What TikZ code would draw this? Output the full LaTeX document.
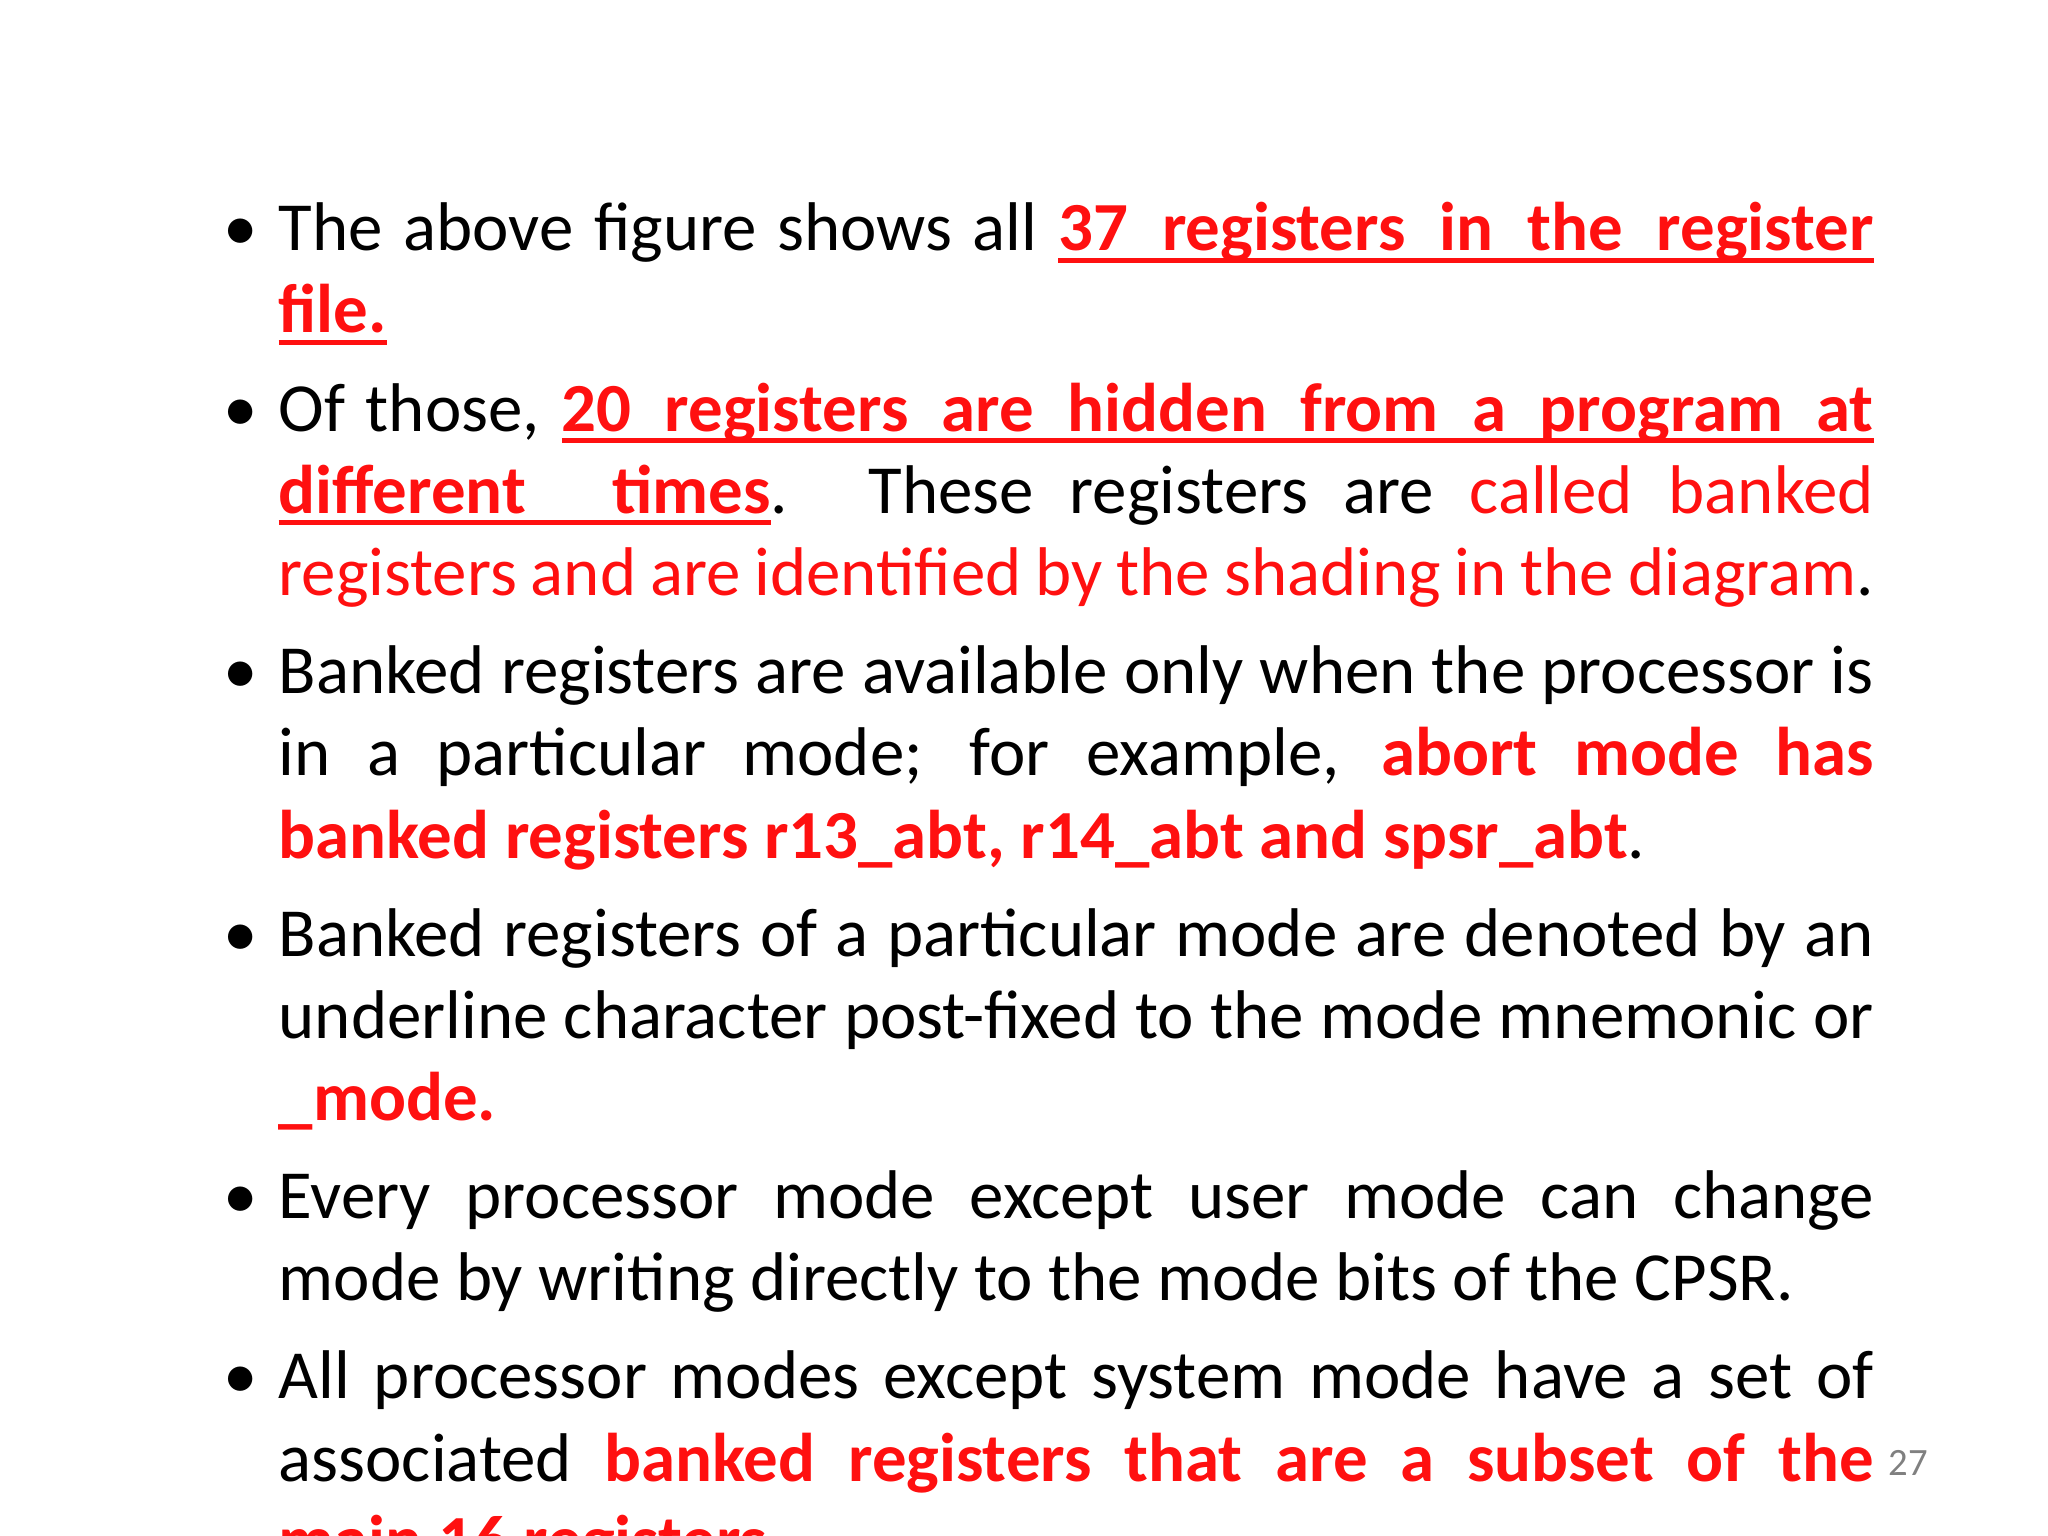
\documentclass[tikz,border=0pt]{standalone}
\usepackage{fontspec}
\setmainfont{Carlito}
\definecolor{myred}{HTML}{FF1010}
\newcommand{\rb}[1]{\textcolor{myred}{\bfseries #1}}
\newcommand{\uw}[1]{\setbox0\hbox{#1}\rlap{\vrule height -2pt depth 3.4pt width \wd0}\box0\relax}
\newcommand{\us}{\leaders\hrule height -2pt depth 3.4pt\hskip 0.226em plus 0.4em minus 0.07em\relax}
\newcommand{\itm}{\par\noindent\hangindent=0.43cm\hangafter=1\makebox[0.43cm][l]{\kern-0.12cm\textbullet}}
\begin{document}
\begin{tikzpicture}
\useasboundingbox[fill=white] (0,0) rectangle (20.48,15.36);
\node[anchor=north west, inner sep=0pt, text width=16.38cm, align=justify, font=\fontsize{19.6pt}{23.4pt}\selectfont] (txt) at (2.35,13.84) {%
\setlength{\parskip}{4.5pt}\hyphenpenalty=10000\exhyphenpenalty=10000\sloppy
\itm The above figure shows all {\color{myred}\bfseries\uw{37}\us\uw{registers}\us\uw{in}\us\uw{the}\us\uw{register}}\linebreak {\color{myred}\bfseries\uw{file.}}
\itm Of those, {\color{myred}\bfseries\uw{20}\us\uw{registers}\us\uw{are}\us\uw{hidden}\us\uw{from}\us\uw{a}\us\uw{program}\us\uw{at}}\linebreak {\color{myred}\bfseries\uw{different}\us\uw{times}}. These registers are \textcolor{myred}{called banked}\linebreak \textcolor{myred}{registers and are identified by the shading in the diagram}.
\itm Banked registers are available only when the processor is\linebreak in a particular mode; for example, \rb{abort mode has}\linebreak \rb{banked registers r13\_abt, r14\_abt and spsr\_abt}.
\itm Banked registers of a particular mode are denoted by an\linebreak underline character post-fixed to the mode mnemonic or\linebreak \rb{\_mode.}
\itm Every processor mode except user mode can change\linebreak mode by writing directly to the mode bits of the CPSR.
\itm All processor modes except system mode have a set of\linebreak associated \rb{banked registers that are a subset of the}\linebreak \rb{main 16 registers.}\par};
\node[anchor=base, text=gray, font=\fontsize{11pt}{13pt}\selectfont] (pg) at (19.08,0.60) {27};
\end{tikzpicture}
\end{document}
